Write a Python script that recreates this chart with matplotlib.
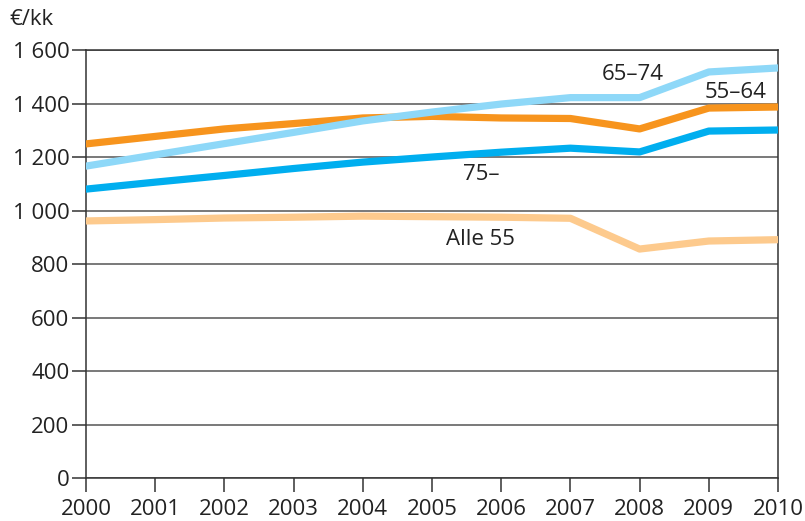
import matplotlib.pyplot as plt
from matplotlib.ticker import FuncFormatter

plt.rcParams['font.family'] = ['Open Sans', 'DejaVu Sans']

# Kulutusmenot, euroa kuukaudessa
years = [2000, 2001, 2002, 2003, 2004, 2005, 2006, 2007, 2008, 2009, 2010]
age_55_64 = [1249, 1277, 1305, 1325, 1346, 1352, 1346, 1344, 1305, 1383, 1387]
age_65_74 = [1166, 1208, 1250, 1292, 1335, 1368, 1398, 1422, 1422, 1518, 1533]
age_75 = [1080, 1106, 1131, 1157, 1181, 1200, 1218, 1233, 1219, 1297, 1301]
all_55 = [961, 966, 972, 975, 979, 977, 975, 971, 856, 886, 891]

colors = {'55-64': '#F7941D', '65-74': '#8ED8F8', '75': '#00AEEF', 'all': '#FDCA8D'}

fig = plt.figure(figsize=(8.05, 5.21), dpi=100)
ax = fig.add_axes([0.1068, 0.0825, 0.8597, 0.8215])

lw = 5.2
ax.plot(years, all_55, color=colors['all'], lw=lw, solid_capstyle='round', zorder=3)
ax.plot(years, age_75, color=colors['75'], lw=lw, solid_capstyle='round', zorder=4)
ax.plot(years, age_55_64, color=colors['55-64'], lw=lw, solid_capstyle='round', zorder=5)
ax.plot(years, age_65_74, color=colors['65-74'], lw=lw, solid_capstyle='round', zorder=6)

ax.set_xlim(2000, 2010)
ax.set_ylim(0, 1600)
ax.set_xticks(years)
ax.set_yticks(range(0, 1601, 200))
ax.yaxis.set_major_formatter(FuncFormatter(lambda v, p: f"{int(v):,}".replace(',', ' ')))

ax.grid(axis='y', color='#555555', lw=1.1, zorder=1)
for s in ax.spines.values():
    s.set_color('#333333')
    s.set_linewidth(1.1)
ax.tick_params(axis='both', direction='out', length=10, width=1.1, color='#333333',
               labelsize=16, labelcolor='#222222')
ax.tick_params(axis='x', pad=5)
ax.tick_params(axis='y', pad=2)

txt = dict(fontsize=16, color='#222222', ha='center', va='center')
ax.text(2007.9, 1510, '65–74', **txt)
ax.text(2009.38, 1443, '55–64', **txt)
ax.text(2005.71, 1136, '75–', **txt)
ax.text(2005.7, 890, 'Alle 55', **txt)

fig.text(0.012, 0.962, '€/kk', fontsize=16, color='#222222', ha='left', va='center')

fig.savefig('out.png', dpi=100)
